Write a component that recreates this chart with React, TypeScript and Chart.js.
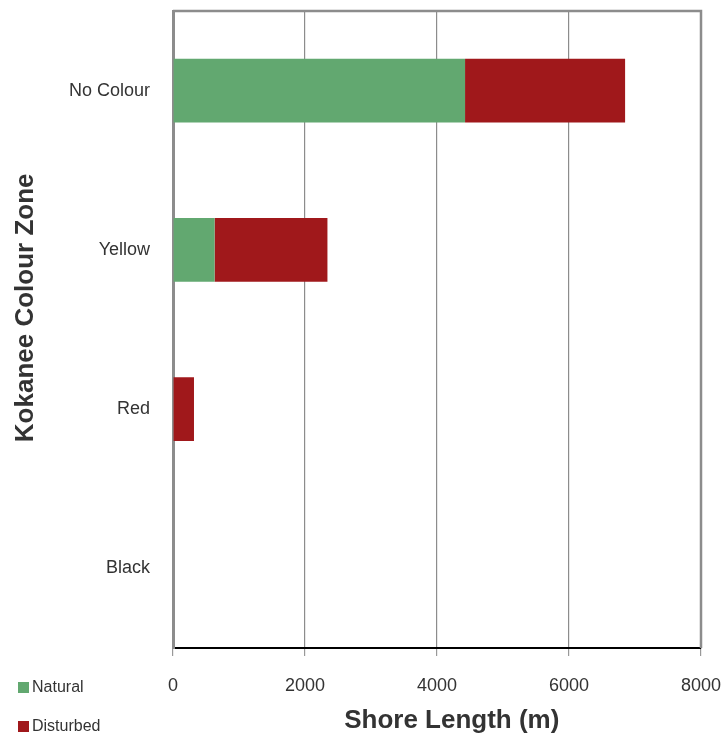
import React, { useEffect, useRef } from "react";
import { Chart, registerables } from "chart.js";

Chart.register(...registerables);

const categories = ["No Colour", "Yellow", "Red", "Black"];
const naturalValues = [4425, 630, 0, 0];
const disturbedValues = [2425, 1710, 318, 0];
const xTicks = [0, 2000, 4000, 6000, 8000];
const seriesNames = ["Natural", "Disturbed"];
const seriesColors = ["#62a870", "#a0181b"];
const xTitle = "Shore Length (m)";
const yTitle = "Kokanee Colour Zone";

const FONT = "'Liberation Sans', Arial, sans-serif";
const frameColor = "#8c8c8c";

const decorPlugin = {
  id: "decor",
  afterDraw(chart: any) {
    const ctx = chart.ctx;
    const area = chart.chartArea;
    ctx.save();
    // top and right frame lines
    ctx.strokeStyle = frameColor;
    ctx.lineWidth = 2.5;
    ctx.beginPath();
    ctx.moveTo(area.left, area.top);
    ctx.lineTo(area.right, area.top);
    ctx.lineTo(area.right, area.bottom);
    ctx.stroke();
    // axis titles
    ctx.fillStyle = "#333333";
    ctx.font = `bold 26px ${FONT}`;
    ctx.textAlign = "center";
    ctx.textBaseline = "middle";
    ctx.fillText(xTitle, area.left + (area.right - area.left) * 0.528, 721);
    ctx.translate(26, area.top + (area.bottom - area.top) * 0.466);
    ctx.rotate(-Math.PI / 2);
    ctx.fillText(yTitle, 0, 0);
    ctx.restore();
  },
};

export default function App() {
  const ref = useRef<HTMLCanvasElement>(null);
  useEffect(() => {
    document.body.style.margin = "0";
    const chart = new Chart(ref.current!, {
      type: "bar",
      data: {
        labels: categories,
        datasets: [
          { label: seriesNames[0], data: naturalValues, backgroundColor: seriesColors[0], borderWidth: 0 },
          { label: seriesNames[1], data: disturbedValues, backgroundColor: seriesColors[1], borderWidth: 0 },
        ],
      },
      plugins: [decorPlugin],
      options: {
        indexAxis: "y",
        animation: false,
        responsive: false,
        devicePixelRatio: 1,
        layout: { padding: { top: 11, right: 21, left: 0, bottom: 0 } },
        plugins: { legend: { display: false }, tooltip: { enabled: false } },
        datasets: { bar: { categoryPercentage: 0.8, barPercentage: 0.5 } },
        scales: {
          x: {
            stacked: true,
            min: 0,
            max: 8000,
            afterBuildTicks: (s: any) => {
              s.ticks = xTicks.map((v) => ({ value: v }));
            },
            afterFit: (s: any) => {
              s.height = 92;
              s.paddingLeft = 0;
              s.paddingRight = 0;
            },
            grid: {
              color: frameColor,
              lineWidth: 1.2,
              tickLength: 8,
              tickColor: "#999999",
              drawTicks: true,
            },
            border: { color: "#000000", width: 2 },
            ticks: {
              padding: 19,
              color: "#333333",
              font: { family: FONT, size: 18 },
              maxRotation: 0,
              callback: (v: any) => String(v),
            },
          },
          y: {
            stacked: true,
            afterFit: (s: any) => {
              s.width = 173;
              s.paddingTop = 0;
              s.paddingBottom = 0;
            },
            grid: { display: false, drawTicks: false },
            border: { color: frameColor, width: 3 },
            ticks: {
              padding: 23,
              color: "#333333",
              font: { family: FONT, size: 18 },
            },
          },
        },
      } as any,
    });
    return () => chart.destroy();
  }, []);

  const legendItem = (i: number, top: number) => (
    <div
      key={i}
      style={{
        position: "absolute",
        left: 18,
        top,
        display: "flex",
        alignItems: "center",
        fontFamily: FONT,
        fontSize: 16,
        color: "#333333",
        lineHeight: "20px",
      }}
    >
      <span style={{ display: "inline-block", width: 11, height: 11, background: seriesColors[i], marginRight: 3 }} />
      {seriesNames[i]}
    </div>
  );

  return (
    <div style={{ position: "absolute", left: 0, top: 0, width: 722, height: 740, background: "#ffffff" }}>
      <canvas ref={ref} width={722} height={740} style={{ width: 722, height: 740, display: "block" }} />
      {legendItem(0, 677)}
      {legendItem(1, 716)}
    </div>
  );
}
